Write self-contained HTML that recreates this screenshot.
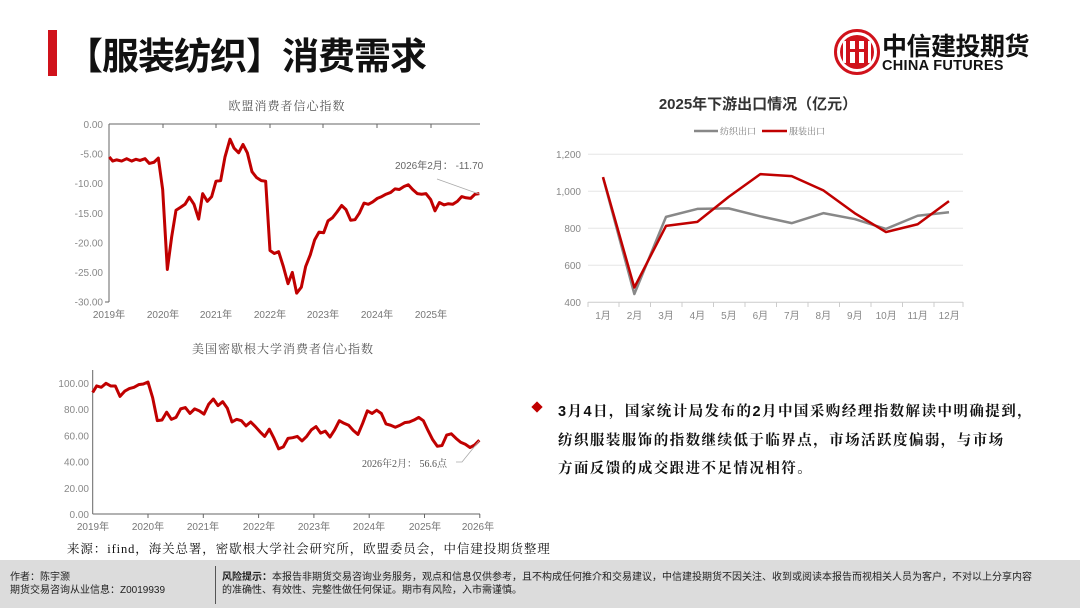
<!DOCTYPE html>
<html><head><meta charset="utf-8"><style>
body{margin:0;width:1080px;height:608px;overflow:hidden;background:#fff;position:relative;font-family:"Liberation Sans","Noto Sans CJK SC",sans-serif}
.abs{position:absolute;white-space:nowrap}
</style></head><body>
<div class="abs" style="left:48px;top:30px;width:9px;height:46px;background:#d0121b"></div>
<div class="abs" style="left:66px;top:26px;font-size:37px;font-weight:bold;color:#111;font-family:'Noto Sans CJK SC',sans-serif;letter-spacing:-1px">【服装纺织】消费需求</div>
<svg class="abs" style="left:834px;top:29px" width="46" height="46" viewBox="0 0 46 46">
<circle cx="23" cy="23" r="21.5" fill="#fff" stroke="#d0121b" stroke-width="3"/>
<circle cx="23" cy="23" r="17" fill="#d0121b"/>
<rect x="9" y="12" width="28" height="22" fill="#fff" rx="2"/>
<rect x="12" y="10" width="4" height="26" fill="#d0121b"/><rect x="21" y="8" width="4" height="30" fill="#d0121b"/><rect x="30" y="10" width="4" height="26" fill="#d0121b"/>
<rect x="12" y="20" width="22" height="3" fill="#d0121b"/>
</svg>
<div class="abs" style="left:882px;top:30px;font-size:25px;font-weight:bold;color:#111;font-family:'Noto Sans CJK SC',sans-serif;letter-spacing:-0.5px;line-height:30px">中信建投期货</div>
<div class="abs" style="left:882px;top:58px;font-size:14.5px;font-weight:bold;color:#111;letter-spacing:0.3px">CHINA FUTURES</div>

<svg class="abs" style="left:0;top:0" width="1080" height="560" font-family="'Liberation Serif','Noto Serif CJK SC',serif">
<text x="287" y="110" text-anchor="middle" font-size="12" fill="#555" letter-spacing="1">欧盟消费者信心指数</text>
<g font-size="10" fill="#888" font-family="'Liberation Sans',sans-serif" text-anchor="end">
<text x="103" y="128">0.00</text><text x="103" y="157.6">-5.00</text><text x="103" y="187.2">-10.00</text><text x="103" y="216.8">-15.00</text><text x="103" y="246.4">-20.00</text><text x="103" y="276">-25.00</text><text x="103" y="305.7">-30.00</text>
</g>
<g stroke="#666" stroke-width="1"><line x1="109" y1="124" x2="109" y2="302"/><line x1="109" y1="124" x2="480" y2="124"/><line x1="105" y1="302" x2="109" y2="302"/>
<line x1="163" y1="124" x2="163" y2="128"/><line x1="216" y1="124" x2="216" y2="128"/><line x1="270" y1="124" x2="270" y2="128"/><line x1="323" y1="124" x2="323" y2="128"/><line x1="377" y1="124" x2="377" y2="128"/><line x1="431" y1="124" x2="431" y2="128"/></g>
<g font-size="10" fill="#777" font-family="'Liberation Sans','Noto Sans CJK SC',sans-serif" text-anchor="middle">
<text x="109" y="318">2019年</text><text x="163" y="318">2020年</text><text x="216" y="318">2021年</text><text x="270" y="318">2022年</text><text x="323" y="318">2023年</text><text x="377" y="318">2024年</text><text x="431" y="318">2025年</text></g>
<g transform="translate(60,90) scale(0.33333) translate(0,103) scale(1,17.77)">
<polyline fill="none" stroke="#c00000" stroke-width="3" vector-effect="non-scaling-stroke" stroke-linejoin="round" points="148,5.5 158,6.2 170,6 185,6.2 200,5.8 215,6.2 228,5.9 240,6.1 255,5.8 268,6.6 282,6.4 295,5.7 308,11 322,24.5 335,19 348,14.5 362,14 375,13.5 388,12.3 402,13.5 416,16 428,11.7 442,13 455,12.2 468,9.6 482,9.5 495,5.5 510,2.5 522,4 536,4.8 549,3.4 562,4.8 576,8 590,9 604,9.5 617,9.6 630,21.3 643,21.8 656,21.5 670,24 684,26.9 697,25 710,28.5 724,27.5 737,24 751,22 764,19.5 777,18.2 791,18.3 804,16.3 817,15.8 831,14.8 845,13.7 858,14.4 872,16.2 885,16.1 898,15 912,13.3 925,13.5 938,13.1 952,12.5 965,12.2 978,11.8 992,11.5 1005,10.9 1018,11 1032,10.5 1045,10.2 1058,11 1072,11.7 1085,11.8 1098,11.7 1112,12.7 1125,14.6 1138,13.2 1152,13.6 1165,13.4 1178,13.5 1192,13 1205,12.2 1218,12.4 1232,12.5 1245,11.8 1258,11.7"/></g>
<text x="395" y="169" font-size="10" fill="#666" font-family="'Liberation Sans','Noto Sans CJK SC',sans-serif">2026年2月： -11.70</text>
<line x1="437" y1="179" x2="479" y2="194" stroke="#aaa" stroke-width="0.8"/>

<text x="283" y="353" text-anchor="middle" font-size="12" fill="#555" letter-spacing="1">美国密歇根大学消费者信心指数</text>
<g font-size="10" fill="#888" font-family="'Liberation Sans',sans-serif" text-anchor="end">
<text x="89" y="518">0.00</text><text x="89" y="491.8">20.00</text><text x="89" y="465.6">40.00</text><text x="89" y="439.4">60.00</text><text x="89" y="413.2">80.00</text><text x="89" y="387">100.00</text></g>
<g stroke="#666" stroke-width="1"><line x1="92.7" y1="370" x2="92.7" y2="514"/><line x1="92.7" y1="514" x2="480" y2="514"/>
<line x1="148" y1="514" x2="148" y2="518"/><line x1="203.3" y1="514" x2="203.3" y2="518"/><line x1="258.6" y1="514" x2="258.6" y2="518"/><line x1="313.9" y1="514" x2="313.9" y2="518"/><line x1="369.2" y1="514" x2="369.2" y2="518"/><line x1="424.5" y1="514" x2="424.5" y2="518"/><line x1="479.8" y1="514" x2="479.8" y2="518"/></g>
<g font-size="10" fill="#777" font-family="'Liberation Sans','Noto Sans CJK SC',sans-serif" text-anchor="middle">
<text x="93" y="530">2019年</text><text x="148" y="530">2020年</text><text x="203" y="530">2021年</text><text x="259" y="530">2022年</text><text x="314" y="530">2023年</text><text x="369" y="530">2024年</text><text x="425" y="530">2025年</text><text x="478" y="530">2026年</text></g>
<g transform="translate(60,335) scale(0.33333) translate(0,538) scale(1,-3.93)">
<polyline fill="none" stroke="#c00000" stroke-width="3" vector-effect="non-scaling-stroke" stroke-linejoin="round" points="98,93 110,98 124,97 138,100 152,98 166,98 180,90 194,94 208,96 222,97 236,99 250,99.5 264,101 278,89 292,71.5 306,72 320,78 334,72.5 348,74 362,80.5 376,81.5 390,77 404,80.5 418,79 432,76.5 446,84 460,88 474,83 488,86 502,81 516,70.5 530,72.5 544,71.5 558,67.5 572,70.5 586,67 600,63 614,59.5 628,65 642,58 656,50 670,51.5 684,58 698,58.5 712,59.5 726,56 740,59.5 754,64.5 768,67 782,62 796,63.5 810,59 824,64.5 838,71.5 852,69.5 866,68 880,64 894,61 908,69.5 922,79 936,77 950,79.5 964,77 978,69 992,68 1006,66.5 1020,68 1034,70 1048,70.5 1062,72 1076,74 1090,71.5 1104,64 1118,57 1132,52 1146,52.5 1160,60.5 1174,61.5 1188,58 1202,55 1216,53.5 1230,51 1244,53 1258,56.6"/></g>
<text x="362" y="467" font-size="10" fill="#555">2026年2月： 56.6点</text>
<polyline points="456,462 462,462 479,441" fill="none" stroke="#aaa" stroke-width="0.8"/>

<text x="758" y="109" text-anchor="middle" font-size="15" font-weight="bold" fill="#333" font-family="'Liberation Sans','Noto Sans CJK SC',sans-serif">2025年下游出口情况（亿元）</text>
<line x1="694" y1="131" x2="718" y2="131" stroke="#888" stroke-width="2.5"/><text x="720" y="134.5" font-size="9" fill="#777">纺织出口</text>
<line x1="762" y1="131" x2="787" y2="131" stroke="#c00000" stroke-width="2.5"/><text x="789" y="134.5" font-size="9" fill="#777">服装出口</text>
<g stroke="#e6e6e6" stroke-width="1"><line x1="588" y1="154.3" x2="963" y2="154.3"/><line x1="588" y1="191.3" x2="963" y2="191.3"/><line x1="588" y1="228.3" x2="963" y2="228.3"/><line x1="588" y1="265.3" x2="963" y2="265.3"/></g>
<g stroke="#ccc" stroke-width="1"><line x1="588" y1="302.3" x2="963" y2="302.3"/>
<line x1="588" y1="302" x2="588" y2="307"/><line x1="619" y1="302" x2="619" y2="307"/><line x1="650.5" y1="302" x2="650.5" y2="307"/><line x1="682" y1="302" x2="682" y2="307"/><line x1="713.5" y1="302" x2="713.5" y2="307"/><line x1="745" y1="302" x2="745" y2="307"/><line x1="776.5" y1="302" x2="776.5" y2="307"/><line x1="808" y1="302" x2="808" y2="307"/><line x1="839.5" y1="302" x2="839.5" y2="307"/><line x1="871" y1="302" x2="871" y2="307"/><line x1="902.5" y1="302" x2="902.5" y2="307"/><line x1="934" y1="302" x2="934" y2="307"/><line x1="963" y1="302" x2="963" y2="307"/></g>
<g font-size="10" fill="#888" font-family="'Liberation Sans',sans-serif" text-anchor="end">
<text x="581" y="158">1,200</text><text x="581" y="195">1,000</text><text x="581" y="232">800</text><text x="581" y="269">600</text><text x="581" y="306">400</text></g>
<g font-size="10" fill="#888" font-family="'Liberation Sans','Noto Sans CJK SC',sans-serif" text-anchor="middle">
<text x="603" y="319">1月</text><text x="634.5" y="319">2月</text><text x="666" y="319">3月</text><text x="697.4" y="319">4月</text><text x="728.9" y="319">5月</text><text x="760.4" y="319">6月</text><text x="791.8" y="319">7月</text><text x="823.3" y="319">8月</text><text x="854.8" y="319">9月</text><text x="886.2" y="319">10月</text><text x="917.7" y="319">11月</text><text x="949.2" y="319">12月</text></g>
<g transform="translate(540,90) scale(0.33333) translate(0,193) scale(1,-0.555) translate(0,-1200)">
<polyline fill="none" stroke="#888" stroke-width="2.5" vector-effect="non-scaling-stroke" stroke-linejoin="round" points="189,1075 283,445 378,862 472,905 566,908 661,865 755,828 850,882 944,850 1038,797 1133,868 1227,887"/>
<polyline fill="none" stroke="#c00000" stroke-width="2.5" vector-effect="non-scaling-stroke" stroke-linejoin="round" points="189,1077 283,480 378,813 472,835 566,970 661,1093 755,1082 850,1005 944,882 1038,780 1133,822 1227,947"/>
</g>
<text x="67" y="553" font-size="12.5" fill="#111" letter-spacing="0.9">来源：ifind，海关总署，密歇根大学社会研究所，欧盟委员会，中信建投期货整理</text>
<rect x="533" y="403" width="8" height="8" fill="#c00000" transform="rotate(45 537 407)"/>
</svg>
<div class="abs" style="left:558px;top:398px;font-size:14.5px;font-weight:bold;color:#111;line-height:28.5px;letter-spacing:1.45px;font-family:'Liberation Sans','Noto Serif CJK SC',serif">3月4日，国家统计局发布的2月中国采购经理指数解读中明确提到，<br>纺织服装服饰的指数继续低于临界点，市场活跃度偏弱，与市场<br>方面反馈的成交跟进不足情况相符。</div>
<div class="abs" style="left:0;top:560px;width:1080px;height:48px;background:#dcdcdc"></div>
<div class="abs" style="left:10px;top:571px;font-size:10px;color:#222;line-height:13px;font-family:'Liberation Sans','Noto Sans CJK SC',sans-serif">作者：陈宇灏<br>期货交易咨询从业信息：Z0019939</div>
<div class="abs" style="left:215px;top:566px;width:1px;height:38px;background:#555"></div>
<div class="abs" style="left:222px;top:571px;font-size:10px;color:#222;line-height:13px;font-family:'Liberation Sans','Noto Sans CJK SC',sans-serif"><b>风险提示：</b>本报告非期货交易咨询业务服务，观点和信息仅供参考，且不构成任何推介和交易建议，中信建投期货不因关注、收到或阅读本报告而视相关人员为客户，不对以上分享内容<br>的准确性、有效性、完整性做任何保证。期市有风险，入市需谨慎。</div>
</body></html>
